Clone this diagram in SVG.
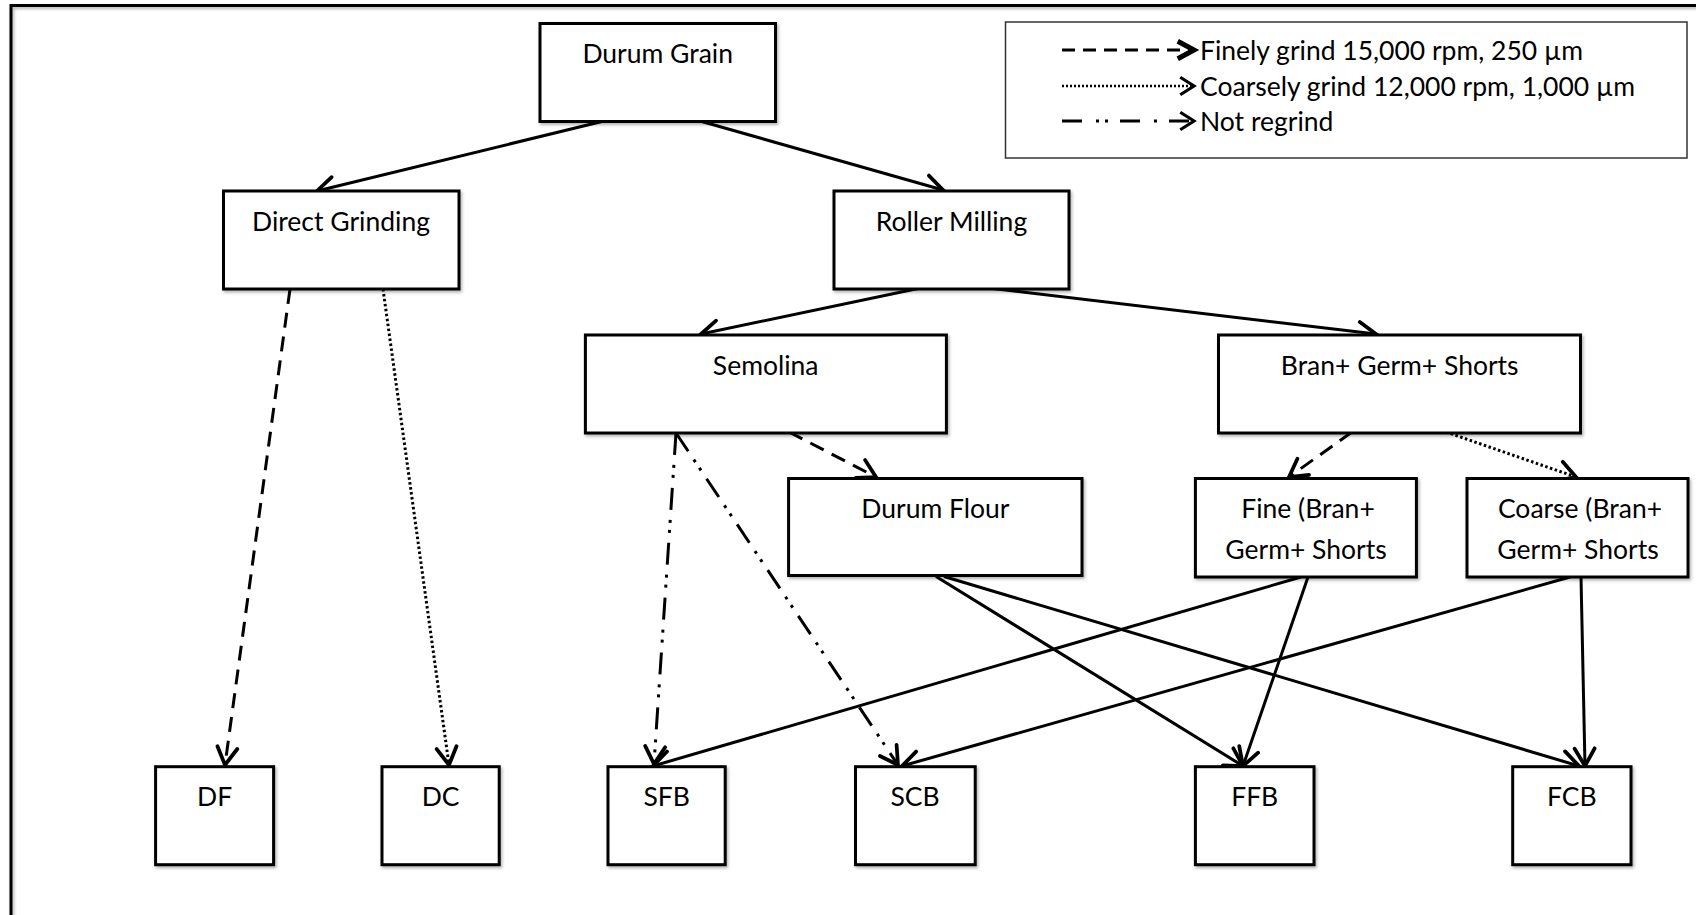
<svg xmlns="http://www.w3.org/2000/svg" width="1696" height="915" viewBox="0 0 1696 915">
  <style>
    .box { fill: #fff; stroke: #000; stroke-width: 3; filter: url(#sh); }
    .lbl { font-family: Lato, "Liberation Sans", sans-serif; font-size: 26.5px; fill: #000; text-anchor: middle; }
    .leg { font-family: Lato, "Liberation Sans", sans-serif; font-size: 26.5px; fill: #000; }
    .c { fill: none; stroke: #000; stroke-width: 3; marker-end: url(#ah); }
    .dash { stroke-dasharray: 15 9; }
    .dot { stroke-width: 3; stroke-dasharray: 2.5 2.5; }
    .dd { stroke-dasharray: 22 10 3 7 3 10; }
  </style>
  <defs>
    <filter id="sh" x="-5%" y="-5%" width="115%" height="120%">
      <feDropShadow dx="1.5" dy="2" stdDeviation="1.5" flood-color="#000" flood-opacity="0.3"/>
    </filter>
    <marker id="ah" markerUnits="userSpaceOnUse" markerWidth="30" markerHeight="30" viewBox="-16 -12 20 24" refX="0" refY="0" orient="auto">
      <path d="M-14,-8 L0,0 L-14,8" fill="none" stroke="#000" stroke-width="3" stroke-linecap="round" stroke-linejoin="miter"/>
    </marker>
    <marker id="ahB" markerUnits="userSpaceOnUse" markerWidth="30" markerHeight="30" viewBox="-16 -12 20 24" refX="0" refY="0" orient="auto">
      <path d="M-13,-7 L0,0 L-13,7" fill="none" stroke="#000" stroke-width="4" stroke-linejoin="miter"/>
    </marker>
    <marker id="ahT" markerUnits="userSpaceOnUse" markerWidth="30" markerHeight="30" viewBox="-16 -12 20 24" refX="0" refY="0" orient="auto">
      <path d="M-11,-7 L0,0 L-11,7" fill="none" stroke="#000" stroke-width="2.5" stroke-linejoin="miter"/>
    </marker>
  </defs>

  <rect x="0" y="0" width="1696" height="915" fill="#fff"/>
  <g id="frame">
    <rect x="11" y="5.5" width="1720" height="940" fill="none" stroke="#000" stroke-width="3" filter="url(#sh)"/>
  </g>

  <g id="legend">
    <rect x="1005.5" y="22" width="681.5" height="136" fill="#fff" stroke="#333" stroke-width="1.5"/>
    <path d="M1062,50 H1194" fill="none" stroke="#000" stroke-width="3" stroke-dasharray="13 8" marker-end="url(#ahB)"/>
    <path d="M1062,86 H1194" fill="none" stroke="#000" stroke-width="2.5" stroke-dasharray="2 2" marker-end="url(#ahT)"/>
    <path d="M1062,121 H1194" fill="none" stroke="#000" stroke-width="3" stroke-dasharray="20 14 3 6 3 12 20 14 3 12" marker-end="url(#ahT)"/>
    <text class="leg" x="1200" y="60">Finely grind 15,000 rpm, 250 µm</text>
    <text class="leg" x="1200" y="96">Coarsely grind 12,000 rpm, 1,000 µm</text>
    <text class="leg" x="1200" y="131">Not regrind</text>
  </g>

  <g id="connectors">
    <path class="c" d="M604,121 L317,191"/>
    <path class="c" d="M700,121 L943,190"/>
    <path class="c" d="M918,288.5 L701,334"/>
    <path class="c" d="M993,288.5 L1376,334"/>
    <path class="c dash" d="M290,289 L225,765"/>
    <path class="c dot" d="M383,289 L449,765"/>
    <path class="c dash" d="M789,432 L876,477"/>
    <path class="c dd" d="M676,433 L654,764"/>
    <path class="c dd" d="M676,433 L898,765"/>
    <path class="c dash" d="M1352,432 L1289,477"/>
    <path class="c dot" d="M1446,432 L1576,477"/>
    <path class="c" d="M936,576.5 L1243,766"/>
    <path class="c" d="M944,576.5 L1579,766"/>
    <path class="c" d="M1301,577 L653,766"/>
    <path class="c" d="M1308,577 L1243,766"/>
    <path class="c" d="M1570,577 L902,766"/>
    <path class="c" d="M1581,577 L1585,766"/>
  </g>

  <g id="durum-grain">
    <rect class="box" x="540" y="23.5" width="235.5" height="98"/>
    <text class="lbl" x="657.7" y="63">Durum Grain</text>
  </g>
  <g id="direct-grinding">
    <rect class="box" x="223.5" y="191" width="235.5" height="98"/>
    <text class="lbl" x="341" y="231">Direct Grinding</text>
  </g>
  <g id="roller-milling">
    <rect class="box" x="834" y="191" width="235" height="98"/>
    <text class="lbl" x="951.5" y="231">Roller Milling</text>
  </g>
  <g id="semolina">
    <rect class="box" x="585.4" y="335" width="361" height="98"/>
    <text class="lbl" x="765.7" y="375">Semolina</text>
  </g>
  <g id="bran-germ-shorts">
    <rect class="box" x="1218.5" y="335" width="362" height="98"/>
    <text class="lbl" x="1399.7" y="375">Bran+ Germ+ Shorts</text>
  </g>
  <g id="durum-flour">
    <rect class="box" x="788.6" y="478.5" width="293.4" height="97"/>
    <text class="lbl" x="935.4" y="518">Durum Flour</text>
  </g>
  <g id="fine">
    <rect class="box" x="1195.4" y="478.5" width="221" height="98.5"/>
    <text class="lbl" x="1308" y="518">Fine (Bran+</text>
    <text class="lbl" x="1306" y="559">Germ+ Shorts</text>
  </g>
  <g id="coarse">
    <rect class="box" x="1467" y="478.5" width="221" height="98.5"/>
    <text class="lbl" x="1580" y="518">Coarse (Bran+</text>
    <text class="lbl" x="1578" y="559">Germ+ Shorts</text>
  </g>
  <g id="df">
    <rect class="box" x="155.6" y="766.7" width="118" height="98"/>
    <text class="lbl" x="214.6" y="806">DF</text>
  </g>
  <g id="dc">
    <rect class="box" x="382" y="766.7" width="117.2" height="98"/>
    <text class="lbl" x="440.6" y="806">DC</text>
  </g>
  <g id="sfb">
    <rect class="box" x="608" y="766.7" width="117.2" height="98"/>
    <text class="lbl" x="666.7" y="806">SFB</text>
  </g>
  <g id="scb">
    <rect class="box" x="855.5" y="766.7" width="119.7" height="98"/>
    <text class="lbl" x="915" y="806">SCB</text>
  </g>
  <g id="ffb">
    <rect class="box" x="1195.4" y="766.7" width="118.6" height="98"/>
    <text class="lbl" x="1254.7" y="806">FFB</text>
  </g>
  <g id="fcb">
    <rect class="box" x="1512.7" y="766.7" width="118.3" height="98"/>
    <text class="lbl" x="1571.8" y="806">FCB</text>
  </g>
</svg>
